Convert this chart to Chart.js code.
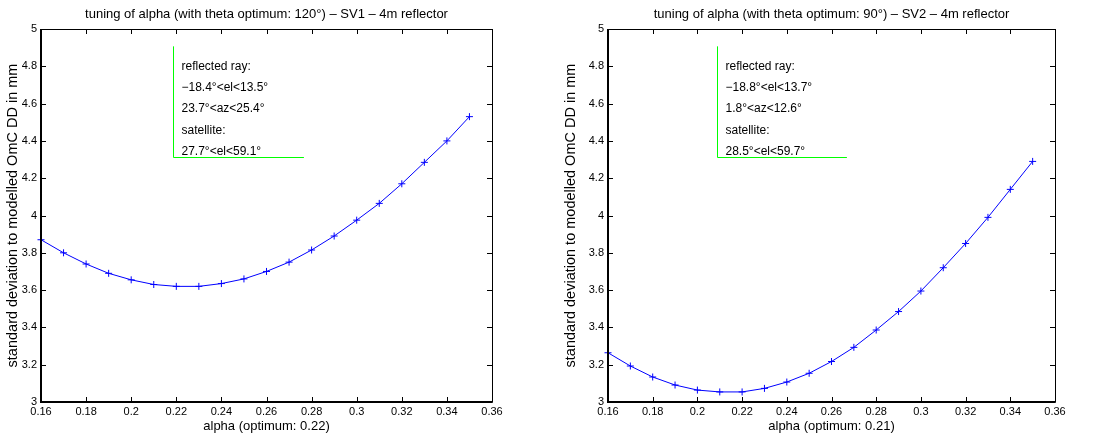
<!DOCTYPE html>
<html>
<head>
<meta charset="utf-8">
<script src="https://cdn.jsdelivr.net/npm/chart.js@4/dist/chart.umd.min.js"></script>
<style>
  body { margin: 0; background: #fff; }
  .panel { position: absolute; top: 0; height: 439px; }
</style>
</head>
<body>
<div class="panel" style="left:0;width:550px"><canvas id="sv1Chart"></canvas></div>
<div class="panel" style="left:550px;width:553px"><canvas id="sv2Chart"></canvas></div>
<script>
const alphas = [0.16, 0.17, 0.18, 0.19, 0.20, 0.21, 0.22, 0.23, 0.24, 0.25,
                0.26, 0.27, 0.28, 0.29, 0.30, 0.31, 0.32, 0.33, 0.34, 0.35];
const sv1Std = [3.87, 3.80, 3.74, 3.69, 3.655, 3.63, 3.62, 3.62, 3.635, 3.66,
                3.70, 3.75, 3.815, 3.89, 3.975, 4.065, 4.17, 4.285, 4.40, 4.53];
const sv2Std = [3.264, 3.193, 3.134, 3.091, 3.064, 3.054, 3.054, 3.073, 3.107, 3.154,
                3.217, 3.293, 3.386, 3.485, 3.595, 3.72, 3.85, 3.99, 4.14, 4.29];
const xTicks = [0.16, 0.18, 0.20, 0.22, 0.24, 0.26, 0.28, 0.30, 0.32, 0.34, 0.36];
const yTicks = [3, 3.2, 3.4, 3.6, 3.8, 4, 4.2, 4.4, 4.6, 4.8, 5];

const sv1Title = 'tuning of alpha (with theta optimum: 120°) \u2013 SV1 \u2013 4m reflector';
const sv2Title = 'tuning of alpha (with theta optimum: 90°) \u2013 SV2 \u2013 4m reflector';
const sv1XLabel = 'alpha (optimum: 0.22)';
const sv2XLabel = 'alpha (optimum: 0.21)';
const yLabel = 'standard deviation to modelled OmC DD in mm';
const sv1Note = ['reflected ray:', '\u221218.4°<el<13.5°', '23.7°<az<25.4°', 'satellite:', '27.7°<el<59.1°'];
const sv2Note = ['reflected ray:', '\u221218.8°<el<13.7°', '1.8°<az<12.6°', 'satellite:', '28.5°<el<59.7°'];

const FONT = '"Liberation Sans", Arial, Helvetica, sans-serif';

function fmt(v) {
  return String(+v.toFixed(2));
}

// MATLAB-like box with inward ticks, title and the green note box
const matlabFrame = {
  id: 'matlabFrame',
  afterDraw(chart, args, opts) {
    const { ctx, chartArea: a, scales: { x, y } } = chart;
    ctx.save();
    // title over the plot area
    ctx.fillStyle = '#000';
    ctx.font = '13px ' + FONT;
    ctx.textAlign = 'center';
    ctx.textBaseline = 'middle';
    ctx.fillText(opts.title, (a.left + a.right) / 2, 14);

    // ticks
    ctx.strokeStyle = '#000';
    ctx.lineWidth = 1;
    ctx.beginPath();
    xTicks.forEach(t => {
      const px = Math.round(x.getPixelForValue(t)) + 0.5;
      ctx.moveTo(px, a.bottom); ctx.lineTo(px, a.bottom - 5);
      ctx.moveTo(px, a.top); ctx.lineTo(px, a.top + 5);
    });
    yTicks.forEach(t => {
      const py = Math.round(y.getPixelForValue(t)) + 0.5;
      ctx.moveTo(a.left, py); ctx.lineTo(a.left + 5, py);
      ctx.moveTo(a.right, py); ctx.lineTo(a.right - 5, py);
    });
    ctx.stroke();

    // box
    ctx.beginPath();
    ctx.rect(Math.round(a.left) + 0.5, Math.round(a.top) + 0.5,
             Math.round(a.right - a.left), Math.round(a.bottom - a.top));
    ctx.stroke();
    ctx.lineWidth = 2;
    ctx.beginPath();
    ctx.moveTo(Math.round(a.left), Math.round(a.top));
    ctx.lineTo(Math.round(a.left), Math.round(a.bottom));
    ctx.lineTo(Math.round(a.right), Math.round(a.bottom));
    ctx.stroke();

    // note box
    const b = opts.box;
    const x0 = Math.round(x.getPixelForValue(b.x0)) + 0.5;
    const x1 = x.getPixelForValue(b.x1);
    const yb = Math.round(y.getPixelForValue(b.y0)) + 0.5;
    const yt = y.getPixelForValue(b.y1);
    ctx.strokeStyle = '#00ff00';
    ctx.lineWidth = 1;
    ctx.beginPath();
    ctx.moveTo(x0, yt); ctx.lineTo(x0, yb); ctx.lineTo(x1, yb);
    ctx.stroke();

    ctx.fillStyle = '#000';
    ctx.font = '12px ' + FONT;
    ctx.textAlign = 'left';
    opts.note.forEach((line, i) => {
      ctx.fillText(line, x0 + 8, yt + 20 + i * 21.3);
    });
    ctx.restore();
  }
};

function makeChart(id, values, title, xLabel, note, box, pad, yWidth, yTitlePad) {
  return new Chart(document.getElementById(id), {
    type: 'line',
    data: {
      datasets: [{
        data: alphas.map((a, i) => ({ x: a, y: values[i] })),
        borderColor: '#0000ff',
        backgroundColor: '#0000ff',
        borderWidth: 1,
        tension: 0,
        pointStyle: 'cross',
        pointRadius: 3.5,
        pointBorderWidth: 1,
        pointBorderColor: '#0000ff',
        clip: false
      }]
    },
    options: {
      responsive: true,
      maintainAspectRatio: false,
      animation: false,
      layout: { padding: { top: 29, left: pad.left, right: pad.right, bottom: 0 } },
      plugins: {
        legend: { display: false },
        tooltip: { enabled: false },
        matlabFrame: { title, note, box }
      },
      scales: {
        x: {
          type: 'linear',
          min: 0.16,
          max: 0.36,
          grid: { display: false, drawTicks: false },
          border: { display: false },
          afterBuildTicks: s => { s.ticks = xTicks.map(v => ({ value: v })); },
          afterFit: s => { s.height = 37; },
          ticks: {
            padding: 3,
            color: '#000',
            font: { family: FONT, size: 11 },
            maxRotation: 0,
            autoSkip: false,
            callback: v => fmt(v)
          },
          title: {
            display: true,
            text: xLabel,
            color: '#000',
            font: { family: FONT, size: 13 },
            padding: { top: 0, bottom: 5 }
          }
        },
        y: {
          type: 'linear',
          min: 3,
          max: 5,
          grid: { display: false, drawTicks: false },
          border: { display: false },
          afterBuildTicks: s => { s.ticks = yTicks.map(v => ({ value: v })); },
          afterFit: s => { s.width = yWidth; },
          ticks: {
            padding: 4,
            color: '#000',
            font: { family: FONT, size: 11 },
            autoSkip: false,
            callback: v => fmt(v)
          },
          title: {
            display: true,
            text: yLabel,
            color: '#000',
            font: { family: FONT, size: 14.5 },
            padding: { top: yTitlePad, bottom: 0 }
          }
        }
      }
    },
    plugins: [matlabFrame]
  });
}

makeChart('sv1Chart', sv1Std, sv1Title, sv1XLabel, sv1Note,
  { x0: 0.2185, x1: 0.2766, y0: 4.312, y1: 4.907 },
  { left: 0, right: 58 }, 41, 4);
makeChart('sv2Chart', sv2Std, sv2Title, sv2XLabel, sv2Note,
  { x0: 0.2088, x1: 0.2669, y0: 4.312, y1: 4.907 },
  { left: 0, right: 48 }, 58, 12);
</script>
</body>
</html>
